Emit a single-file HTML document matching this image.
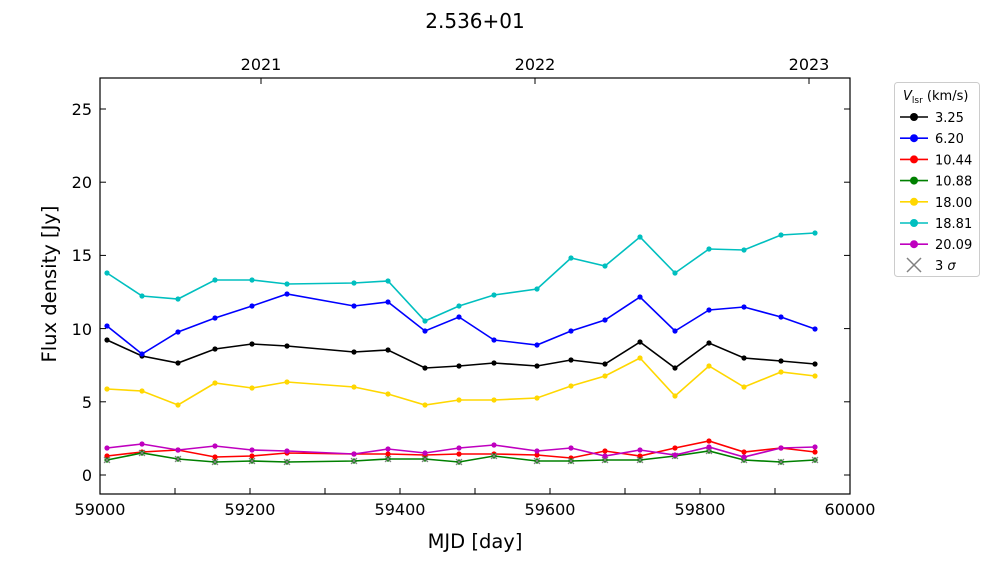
<!DOCTYPE html>
<html><head><meta charset="utf-8"><style>
html,body{margin:0;padding:0;background:#fff;}
svg{display:block;font-family:"DejaVu Sans","Liberation Sans",sans-serif;}
</style></head><body>
<svg id="s" width="1000" height="562" viewBox="0 0 1000 562" xmlns="http://www.w3.org/2000/svg">
<rect width="1000" height="562" fill="#fff"/>
<text x="475" y="28" font-size="20" text-anchor="middle">2.536+01</text>
<g id="plot"></g>
<rect x="100" y="78" width="750" height="416" fill="none" stroke="#000" stroke-width="1.2"/>
<g id="ticks" stroke="#000" stroke-width="1"></g>
<g font-size="16" text-anchor="middle">
<text x="100" y="515">59000</text><text x="250" y="515">59200</text><text x="400" y="515">59400</text>
<text x="550" y="515">59600</text><text x="700" y="515">59800</text><text x="850" y="515">60000</text>
<text x="261" y="70">2021</text><text x="535" y="70">2022</text><text x="809" y="70">2023</text>
</g>
<g font-size="16" text-anchor="end">
<text x="92" y="481">0</text><text x="92" y="408">5</text><text x="92" y="335">10</text>
<text x="92" y="261">15</text><text x="92" y="188">20</text><text x="92" y="115">25</text>
</g>
<text x="475" y="548" font-size="19.5" text-anchor="middle">MJD [day]</text>
<text transform="translate(56,284) rotate(-90)" font-size="19.5" text-anchor="middle">Flux density [Jy]</text>
<rect x="894.5" y="82.5" width="85" height="194" rx="3" fill="#fff" stroke="#ccc"/>
<text x="903" y="100" font-size="13"><tspan font-style="italic">V</tspan><tspan font-size="9" dy="3">lsr</tspan><tspan dy="-3"> (km/s)</tspan></text>
<g id="leg" font-size="13"></g>
</svg>
<script>
const X=[107,142,178,215,252,287,354,388,425,459,494,537,571,605,640,675,709,744,781,815];
const S=[
["#000","3.25",[340,356,363,349,344,346,352,350,368,366,363,366,360,364,342,368,343,358,361,364]],
["#00f","6.20",[326,354,332,318,306,294,306,302,331,317,340,345,331,320,297,331,310,307,317,329]],
["#f00","10.44",[456,452,450,457,456,453,454,454,455,454,454,455,458,451,456,448,441,452,448,452]],
["#008000","10.88",[460,453,459,462,461,462,461,459,459,462,456,461,461,460,460,456,451,460,462,460]],
["#ffd700","18.00",[389,391,405,383,388,382,387,394,405,400,400,398,386,376,358,396,366,387,372,376]],
["#00bfbf","18.81",[273,296,299,280,280,284,283,281,321,306,295,289,258,266,237,273,249,250,235,233]],
["#bf00bf","20.09",[448,444,450,446,450,451,454,449,453,448,445,451,448,456,450,455,447,457,448,447]]];
const NS="http://www.w3.org/2000/svg";
function el(p,t,a){const e=document.createElementNS(NS,t);for(const k in a)e.setAttribute(k,a[k]);p.appendChild(e);return e;}
const P=document.getElementById("plot");
S.forEach(([c,l,Y])=>{
 el(P,"polyline",{points:X.map((x,i)=>x+","+Y[i]).join(" "),fill:"none",stroke:c,"stroke-width":1.6});
 X.forEach((x,i)=>{el(P,"circle",{cx:x,cy:Y[i],r:2.6,fill:c});
  if(l==="10.88"){el(P,"path",{d:`M${x-3},${Y[i]-3}L${x+3},${Y[i]+3}M${x-3},${Y[i]+3}L${x+3},${Y[i]-3}`,stroke:"#808080","stroke-width":1.2});}});
});
const T=document.getElementById("ticks");
for(let v=59000;v<=60000;v+=100){const x=100+(v-59000)*0.75;el(T,"line",{x1:x,y1:494,x2:x,y2:488});}
[261,535,809].forEach(x=>el(T,"line",{x1:x,y1:78,x2:x,y2:84}));
for(let v=0;v<=25;v+=5){const y=475-v*14.64;el(T,"line",{x1:100,y1:y,x2:106,y2:y});el(T,"line",{x1:850,y1:y,x2:844,y2:y});}
const L=document.getElementById("leg");
S.forEach(([c,l],i)=>{const y=117+i*21.2;
 el(L,"line",{x1:900,y1:y,x2:928,y2:y,stroke:c,"stroke-width":1.6});
 el(L,"circle",{cx:914,cy:y,r:4,fill:c});
 const t=el(L,"text",{x:935,y:y+5});t.textContent=l;});
const y=265;
el(L,"path",{d:"M907,258L921,272M907,272L921,258",stroke:"#808080","stroke-width":1.5});
const t=el(L,"text",{x:935,y:y+5});t.innerHTML='3 <tspan font-style="italic">σ</tspan>';
</script>
</body></html>
